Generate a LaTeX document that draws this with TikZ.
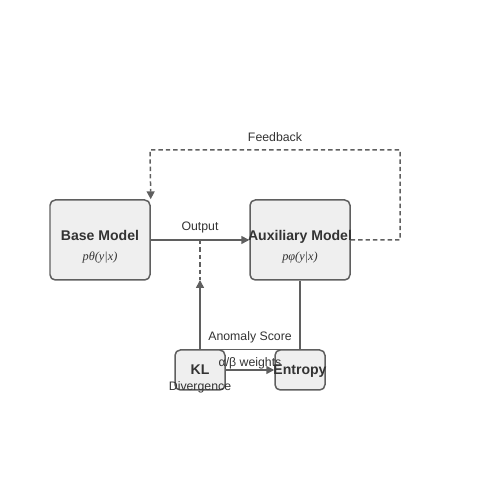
\documentclass[tikz,border=0pt]{standalone}
\usepackage{fontspec}
\setmainfont{Liberation Sans}
\newfontfamily\formulafont{Liberation Serif}
\usetikzlibrary{arrows.meta}
\definecolor{boxfill}{HTML}{EFEFEF}
\definecolor{boxdraw}{HTML}{5F5F5F}
\definecolor{labeltext}{HTML}{333333}
\begin{document}
\begin{tikzpicture}[line width=0.85pt,
model_style/.style={draw=boxdraw,fill=boxfill,rounded corners=3pt,minimum width=2cm,minimum height=1.6cm},
small_style/.style={draw=boxdraw,fill=boxfill,rounded corners=3pt,minimum width=1cm,minimum height=0.8cm,inner sep=0pt},
title_style/.style={inner sep=0pt,anchor=base,text=labeltext,font=\fontsize{8}{9}\selectfont\bfseries},
formula_style/.style={inner sep=0pt,anchor=base,text=labeltext,font=\fontsize{7}{8}\formulafont\itshape},
label_style/.style={text=labeltext,font=\fontsize{7}{8}\selectfont},
edge_style/.style={draw=boxdraw,-{Triangle[length=4.5pt,width=4.5pt]}},
dash_style/.style={draw=boxdraw,dash pattern=on 2.5pt off 1.7pt}]
\useasboundingbox (0,0) rectangle (10,10);
\node[model_style] (base) at (2,5.2) {};
\node[model_style] (aux) at (6,5.2) {};
\node[small_style] (kl) at (4,2.6) {};
\node[small_style] (entropy) at (6,2.6) {};
\node[title_style] (base_title) at (2,5.18) {Base Model};
\node[formula_style] (base_formula) at (2,4.78) {pθ(y|x)};
\node[title_style] (aux_title) at (6,5.18) {Auxiliary Model};
\node[formula_style] (aux_formula) at (6,4.78) {pφ(y|x)};
\node[title_style] (kl_title) at (4,2.5) {KL};
\node[label_style,inner sep=0pt,anchor=base] (kl_sub) at (4,2.18) {Divergence};
\node[title_style] (entropy_title) at (6,2.5) {Entropy};
\coordinate (tap) at (4,5.2);
\coordinate (score_in) at (4,4.4);
\coordinate (fb_right) at (8,5.2);
\coordinate (fb_top_right) at (8,7);
\coordinate (fb_top_left) at (3,7);
\draw[edge_style] (base) -- (aux) node[label_style,pos=0.5,above=0pt] {Output};
\draw[dash_style] (tap) -- (score_in);
\draw[edge_style] (aux.south) -- (entropy.north) -- (kl.north) node[label_style,pos=0.5,above=-0.5pt] {Anomaly Score} -- (score_in);
\draw[edge_style] (kl.east) -- (entropy.west) node[label_style,pos=0.5,above=-3.3pt] {α/β weights};
\draw[dash_style,-{Triangle[length=4.5pt,width=4.5pt]}] (aux.east) -- (fb_right) -- (fb_top_right) -- (fb_top_left) node[label_style,pos=0.5,above=1pt] {Feedback} -- (base.north east);
\end{tikzpicture}
\end{document}
